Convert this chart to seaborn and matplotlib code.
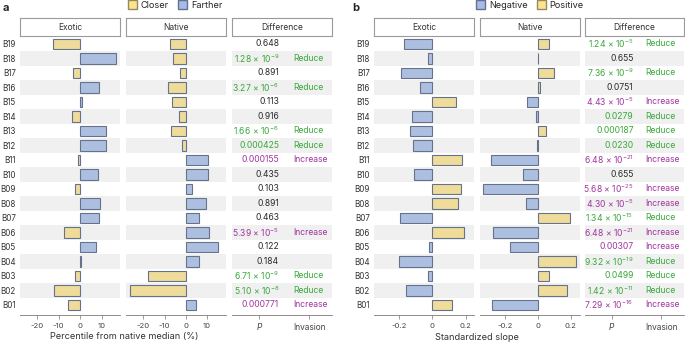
import numpy as np
import pandas as pd
import matplotlib
matplotlib.use("Agg")
import matplotlib.pyplot as plt
from matplotlib.patches import Patch
import seaborn as sns

sites = ["B19", "B18", "B17", "B16", "B15", "B14", "B13", "B12", "B11", "B10",
         "B09", "B08", "B07", "B06", "B05", "B04", "B03", "B02", "B01"]

# Panel a: percentile from native median (%)
a_exotic = [-12.4, 16.6, -3.4, 8.7, 1.0, -3.9, 12.1, 12.0, -1.2, 8.2,
            -2.5, 9.3, 9.0, -7.4, 7.6, 0.2, -2.6, -12.1, -5.6]
a_native = [-7.2, -6.1, -2.5, -8.3, -6.4, -3.1, -6.8, -1.6, 10.4, 10.7,
            3.0, 9.4, 6.1, 11.0, 15.3, 6.1, -17.6, -26.1, 4.7]
a_p = ["0.648", "1.28 × 10$^{-9}$", "0.891", "3.27 × 10$^{-6}$", "0.113", "0.916",
       "1.66 × 10$^{-6}$", "0.000425", "0.000155", "0.435", "0.103", "0.891", "0.463",
       "5.39 × 10$^{-5}$", "0.122", "0.184", "6.71 × 10$^{-9}$", "5.10 × 10$^{-8}$", "0.000771"]
a_inv = ["", "Reduce", "", "Reduce", "", "", "Reduce", "Reduce", "Increase", "",
         "", "", "", "Increase", "", "", "Reduce", "Reduce", "Increase"]

# Panel b: standardized slope
b_exotic = [-0.172, -0.024, -0.186, -0.074, 0.140, -0.120, -0.132, -0.114, 0.180, -0.108,
            0.174, 0.156, -0.192, 0.188, -0.018, -0.202, -0.028, -0.156, 0.120]
b_native = [0.068, 0.0, 0.098, 0.012, -0.066, -0.012, 0.049, -0.006, -0.283, -0.088,
            -0.332, -0.074, 0.197, -0.271, -0.168, 0.230, 0.070, 0.176, -0.279]
b_p = ["1.24 × 10$^{-5}$", "0.655", "7.36 × 10$^{-9}$", "0.0751", "4.43 × 10$^{-5}$",
       "0.0279", "0.000187", "0.0230", "6.48 × 10$^{-21}$", "0.655", "5.68 × 10$^{-25}$",
       "4.30 × 10$^{-5}$", "1.34 × 10$^{-15}$", "6.48 × 10$^{-21}$", "0.00307",
       "9.32 × 10$^{-19}$", "0.0499", "1.42 × 10$^{-11}$", "7.29 × 10$^{-16}$"]
b_inv = ["Reduce", "", "Reduce", "", "Increase", "Reduce", "Reduce", "Reduce", "Increase", "",
         "Increase", "Increase", "Reduce", "Increase", "Increase", "Reduce", "Reduce", "Reduce",
         "Increase"]

sns.set_theme(style="white")
plt.rcParams["font.family"] = ["Inter", "DejaVu Sans"]
plt.rcParams["mathtext.default"] = "regular"

YEL, YEL_E = "#fde48c", "#948a62"
BLU, BLU_E = "#a4bce9", "#66728c"
GREEN, PURPLE = "#3aa83a", "#a0359f"
SHADE = "#f0f0f0"
SPINE = "#8c8c8c"
FS = 5.8

W, H = 685, 343
fig = plt.figure(figsize=(W / 100, H / 100), dpi=100)


def rect(x0, x1, y0, y1):
    return [x0 / W, 1 - y1 / H, (x1 - x0) / W, (y1 - y0) / H]


YTOP, YBOT = 37, 315
YLIM = (18.69, -0.48)


def shade(ax):
    for i in range(1, len(sites), 2):
        ax.axhspan(i - 0.5, i + 0.5, color=SHADE, lw=0, zorder=0)


def header(x0, x1, text):
    hx = fig.add_axes(rect(x0, x1, 18, 36))
    hx.set_xticks([]); hx.set_yticks([])
    for s in hx.spines.values():
        s.set_color("#9a9a9a"); s.set_linewidth(0.8)
    hx.text(0.5, 0.5, text, ha="center", va="center", fontsize=FS + 0.3, color="#333333",
            transform=hx.transAxes)


def bar_panel(x0, x1, vals, palette, labels_neg, labels_pos, xlim, ticks, ticklabels, show_y):
    ax = fig.add_axes(rect(x0, x1, YTOP, YBOT))
    df = pd.DataFrame({"site": sites, "value": vals})
    df["sign"] = np.where(df["value"] < 0, labels_neg, labels_pos)
    sns.barplot(data=df, x="value", y="site", hue="sign", order=sites,
                palette=palette, dodge=False, orient="h", width=0.75,
                linewidth=0.8, legend=False, ax=ax, zorder=2)
    for p in ax.patches:
        fc = matplotlib.colors.to_hex(p.get_facecolor())
        p.set_edgecolor(YEL_E if fc == YEL else BLU_E)
    shade(ax)
    ax.set_xlim(*xlim)
    ax.set_ylim(*YLIM)
    ax.set_xticks(ticks)
    ax.set_xticklabels(ticklabels)
    ax.set_xlabel(""); ax.set_ylabel("")
    for s in ["top", "right", "left"]:
        ax.spines[s].set_visible(False)
    ax.spines["bottom"].set_color(SPINE); ax.spines["bottom"].set_linewidth(0.7)
    ax.tick_params(axis="x", length=3, width=0.6, color=SPINE, labelsize=FS - 0.3,
                   labelcolor="#444444", pad=3, bottom=True)
    if show_y:
        ax.tick_params(axis="y", length=0, labelsize=FS, labelcolor="#333333", pad=3)
    else:
        ax.set_yticks([])
    return ax


def diff_panel(x0, x1, pvals, invs, px, ix):
    ax = fig.add_axes(rect(x0, x1, YTOP, YBOT))
    shade(ax)
    ax.set_xlim(0, 1); ax.set_ylim(*YLIM)
    for i, (p, inv) in enumerate(zip(pvals, invs)):
        col = GREEN if inv == "Reduce" else (PURPLE if inv == "Increase" else "#2a2a2a")
        ax.text(px, i, p, ha="right", va="center", fontsize=FS + 0.4, color=col)
        if inv:
            ax.text(ix, i, inv, ha="left", va="center", fontsize=FS + 0.4, color=col)
    ax.set_yticks([])
    ax.set_xticks([0.27, 0.77])
    labs = ax.set_xticklabels(["P", "Invasion"])
    labs[0].set_fontstyle("italic")
    for s in ["top", "right", "left"]:
        ax.spines[s].set_visible(False)
    ax.spines["bottom"].set_color(SPINE); ax.spines["bottom"].set_linewidth(0.7)
    ax.tick_params(axis="x", length=3, width=0.6, color=SPINE, labelsize=FS + 0.2,
                   labelcolor="#444444", pad=3, bottom=True)
    return ax


# Panel a
pal_a = {"Closer": YEL, "Farther": BLU}
bar_panel(20, 120, a_exotic, pal_a, "Closer", "Farther", (-28, 18.6), [-20, -10, 0, 10],
          ["-20", "-10", "0", "10"], True)
bar_panel(126, 226, a_native, pal_a, "Closer", "Farther", (-28.2, 19), [-20, -10, 0, 10],
          ["-20", "-10", "0", "10"], False)
diff_panel(232, 332, a_p, a_inv, 0.47, 0.61)
header(20, 120, "Exotic"); header(126, 226, "Native"); header(232, 332, "Difference")

# Panel b
pal_b = {"Negative": BLU, "Positive": YEL}
bar_panel(374, 474, b_exotic, pal_b, "Negative", "Positive", (-0.35, 0.25), [-0.2, 0, 0.2],
          ["-0.2", "0", "0.2"], True)
bar_panel(480, 580, b_native, pal_b, "Negative", "Positive", (-0.35, 0.255), [-0.2, 0, 0.2],
          ["-0.2", "0", "0.2"], False)
diff_panel(585, 684, b_p, b_inv, 0.49, 0.61)
header(374, 474, "Exotic"); header(480, 580, "Native"); header(585, 684, "Difference")

# Panel letters
fig.text(3 / W, 1 - 8 / H, "a", fontsize=8, fontweight="bold", va="center", ha="left")
fig.text(352 / W, 1 - 8 / H, "b", fontsize=8, fontweight="bold", va="center", ha="left")

# Legends
leg_kw = dict(ncol=2, frameon=False, fontsize=FS + 0.8, handlelength=1.0, handleheight=1.0,
              handletextpad=0.4, columnspacing=1.0, borderaxespad=0, borderpad=0)
fig.legend(handles=[Patch(facecolor=YEL, edgecolor=YEL_E, label="Closer"),
                    Patch(facecolor=BLU, edgecolor=BLU_E, label="Farther")],
           loc="center", bbox_to_anchor=(175 / W, 1 - 5 / H), **leg_kw)
fig.legend(handles=[Patch(facecolor=BLU, edgecolor=BLU_E, label="Negative"),
                    Patch(facecolor=YEL, edgecolor=YEL_E, label="Positive")],
           loc="center", bbox_to_anchor=(530 / W, 1 - 5 / H), **leg_kw)

# x labels
fig.text(124 / W, 1 - 337 / H, "Percentile from native median (%)", ha="center", va="center",
         fontsize=FS + 0.8, color="#333333")
fig.text(477 / W, 1 - 337 / H, "Standardized slope", ha="center", va="center",
         fontsize=FS + 0.8, color="#333333")

fig.savefig("out.png", dpi=100)
